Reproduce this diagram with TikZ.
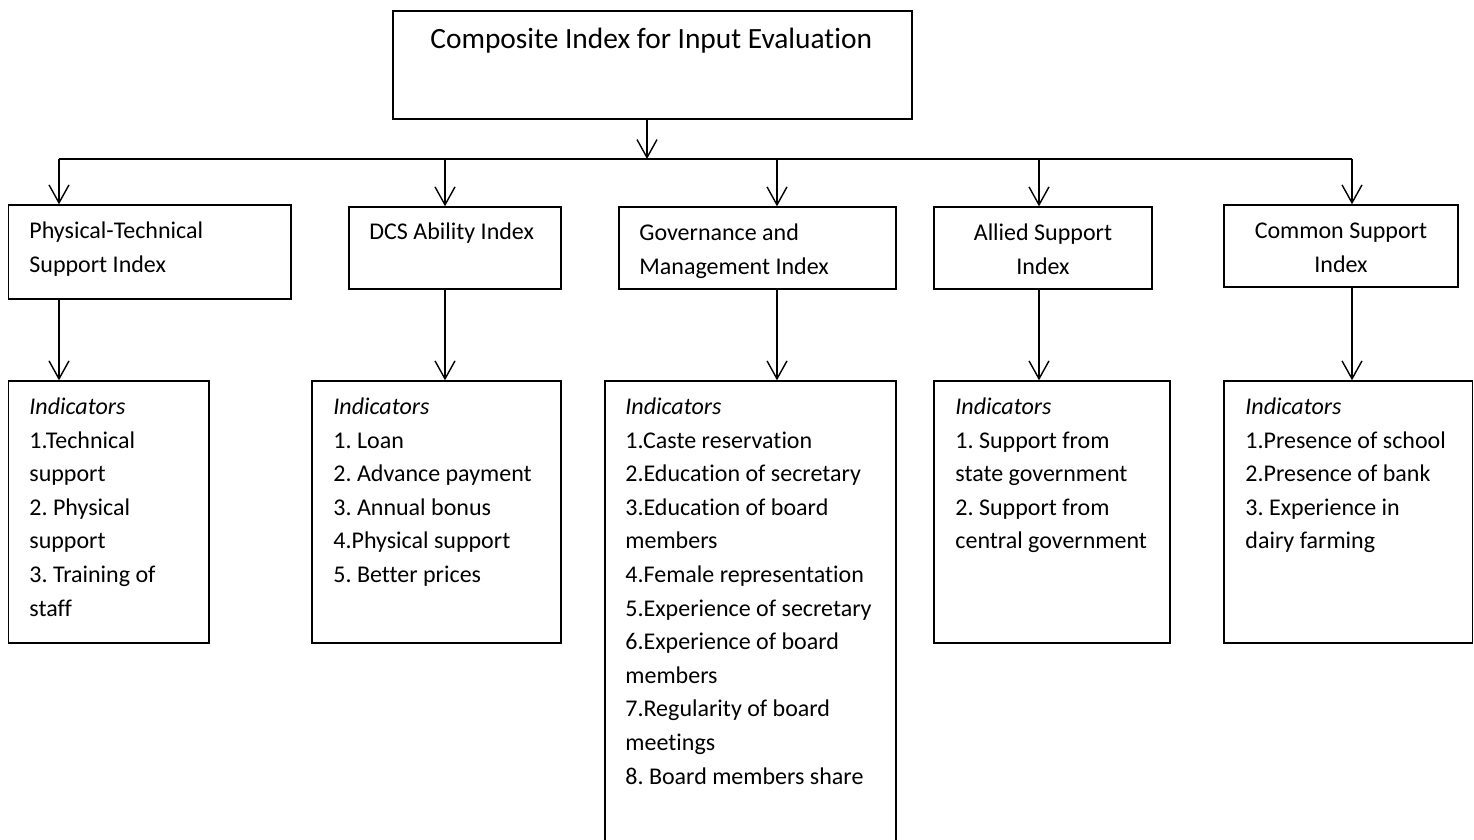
\documentclass[tikz,border=0pt]{standalone}
\usepackage{fontspec}
\setmainfont{Carlito}[Ligatures=NoCommon]
\usetikzlibrary{arrows.meta,fit}
\frenchspacing
\begin{document}
\begin{tikzpicture}[x=0.5pt,y=-0.5pt,
  box/.style={draw, line width=0.7pt, inner sep=0pt},
  lbl/.style={anchor=north west, inner sep=0pt, align=left, font=\fontsize{12}{16.8}\selectfont},
  clbl/.style={anchor=north, inner sep=0pt, align=center, font=\fontsize{12}{16.8}\selectfont},
  arr/.style={line width=0.7pt, -{Straight Barb[length=9pt,width=10pt]}},
  busline/.style={line width=1.2pt}]
\path[use as bounding box, clip] (0,0) rectangle (1474,840);

% boxes
\node[box, fit={(393,11)(912,119)}] (top) {};
\node[box, fit={(8.5,205)(291,299)}] (pt) {};
\node[box, fit={(349,207)(561,289)}] (dcs) {};
\node[box, fit={(619,207)(896,289)}] (gm) {};
\node[box, fit={(934,207)(1152,289)}] (as) {};
\node[box, fit={(1224,205)(1458,287)}] (cs) {};
\node[box, fit={(8.5,381)(209,643)}] (ptI) {};
\node[box, fit={(312,381)(561,643)}] (dcsI) {};
\node[box, fit={(605,381)(896,870)}] (gmI) {};
\node[box, fit={(934,381)(1170,643)}] (asI) {};
\node[box, fit={(1224,381)(1472.5,643)}] (csI) {};

% titles
\node[anchor=base west, inner sep=0pt, font=\fontsize{14.7}{17.6}\selectfont] (ttop) at (430,49) {Composite Index for Input Evaluation};
\node[lbl] (tpt) at (29,214.5) {\strut Physical-Technical\\Support Index};
\node[anchor=base west, inner sep=0pt, font=\fontsize{12}{16.8}\selectfont] (tdcs) at (369,240) {DCS Ability Index};
\node[lbl] (tgm) at (639,216.5) {\strut Governance and\\Management Index};
\node[clbl] (tas) at (1043,216.5) {\strut Allied Support\\Index};
\node[clbl] (tcs) at (1341,214.5) {\strut Common Support\\Index};

% indicator lists
\node[lbl] (lpt) at (29,390.5) {\strut\textit{Indicators}\\1.Technical\\support\\2. Physical\\support\\3. Training of\\staff};
\node[lbl] (ldcs) at (333,390.5) {\strut\textit{Indicators}\\1. Loan\\2. Advance payment\\3. Annual bonus\\4.Physical support\\5. Better prices};
\node[lbl] (lgm) at (625,390.5) {\strut\textit{Indicators}\\1.Caste reservation\\2.Education of secretary\\3.Education of board\\members\\4.Female representation\\5.Experience of secretary\\6.Experience of board\\members\\7.Regularity of board\\meetings\\8. Board members share};
\node[lbl] (las) at (955,390.5) {\strut\textit{Indicators}\\1. Support from\\state government\\2. Support from\\central government};
\node[lbl] (lcs) at (1245,390.5) {\strut\textit{Indicators}\\1.Presence of school\\2.Presence of bank\\3. Experience in\\dairy farming};

% distribution bus
\coordinate (b0) at (647,159);
\coordinate (b1) at (59,159);
\coordinate (b2) at (445,159);
\coordinate (b3) at (777,159);
\coordinate (b4) at (1039,159);
\coordinate (b5) at (1352,159);

\draw[arr] (top.south -| b0) -- (b0);
\draw[busline] (b1) -- (b5);
\draw[arr] (b1) -- (pt.north -| b1);
\draw[arr] (b2) -- (dcs.north -| b2);
\draw[arr] (b3) -- (gm.north -| b3);
\draw[arr] (b4) -- (as.north -| b4);
\draw[arr] (b5) -- (cs.north -| b5);

\draw[arr] (pt.south -| b1) -- (ptI.north -| b1);
\draw[arr] (dcs.south -| b2) -- (dcsI.north -| b2);
\draw[arr] (gm.south -| b3) -- (gmI.north -| b3);
\draw[arr] (as.south -| b4) -- (asI.north -| b4);
\draw[arr] (cs.south -| b5) -- (csI.north -| b5);
\end{tikzpicture}
\end{document}
